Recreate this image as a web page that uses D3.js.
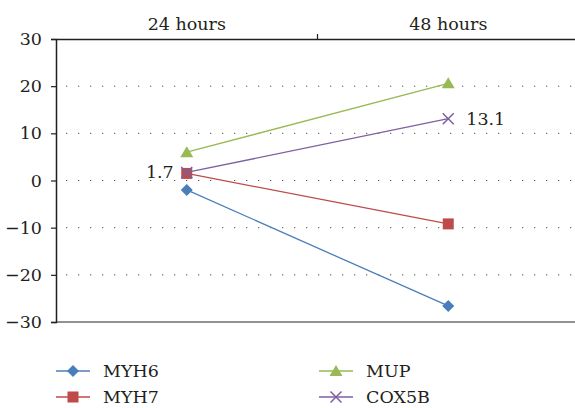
<!DOCTYPE html>
<html><head><meta charset="utf-8">
<script src="https://cdn.jsdelivr.net/npm/d3@7"></script>
<style>
html,body{margin:0;padding:0;background:#fff;}
svg{display:block;}
</style></head>
<body><svg id="c" width="575" height="408"></svg>
<script>
const categories = ["24 hours", "48 hours"];
const seriesNames = ["MYH6", "MYH7", "MUP", "COX5B"];
const myh6 = [-2.0, -26.6];
const myh7 = [1.5, -9.2];
const mup = [6.0, 20.6];
const cox5b = [1.7, 13.1];
const yTicks = [-30, -20, -10, 0, 10, 20, 30];
const colors = ["#4a7ebb", "#be4b48", "#98b954", "#7d60a0"];
const shapes = ["diamond", "square", "triangle", "x"];
const labels = [{series: 3, index: 0, text: "1.7", side: "left"}, {series: 3, index: 1, text: "13.1", side: "right"}];

const FONT = "'DejaVu Serif', serif";
const FS = "17.5px";
const seriesValues = [myh6, myh7, mup, cox5b];
const svg = d3.select("#c");
const L = 56, R = 579, T = 39, B = 322;
const x = d3.scaleBand().domain(categories).range([L, R]);
const y = d3.scaleLinear().domain([-30, 30]).range([B, T]);
const cx = c => x(c) + x.bandwidth() / 2;

// gridlines
svg.append("g").selectAll("line").data(yTicks.filter(t => t !== 30 && t !== -30)).join("line")
  .attr("x1", L + 10).attr("x2", R).attr("y1", d => y(d)).attr("y2", d => y(d))
  .attr("stroke", "#555").attr("stroke-width", 1).attr("stroke-dasharray", "1.3,10.7");

// bottom line (x at -30)
svg.append("line").attr("x1", L).attr("x2", R).attr("y1", y(-30)).attr("y2", y(-30))
  .attr("stroke", "#6d6d6d").attr("stroke-width", 1.5);

// left axis
const ya = svg.append("g").attr("transform", `translate(${L},0)`)
  .call(d3.axisLeft(y).tickValues(yTicks).tickSize(5).tickPadding(9).tickFormat(d => d < 0 ? "\u2212" + Math.abs(d) : d));
ya.attr("font-family", null).attr("font-size", null);
ya.select(".domain").attr("stroke", "#231f20").attr("stroke-width", 1.5);
ya.selectAll(".tick line").attr("stroke", "#231f20").attr("stroke-width", 1.2);
ya.selectAll("text").style("font-family", FONT).style("font-size", FS).attr("fill", "#231f20");

// top axis
const xa = svg.append("g").attr("transform", `translate(0,${T})`)
  .call(d3.axisTop(x).tickSize(0).tickPadding(9));
xa.attr("font-family", null).attr("font-size", null);
xa.select(".domain").attr("stroke", "#231f20").attr("stroke-width", 1.5);
xa.selectAll("text").style("font-family", FONT).style("font-size", FS).attr("fill", "#231f20");
svg.append("g").selectAll("line").data(categories.slice(1)).join("line")
  .attr("x1", d => x(d)).attr("x2", d => x(d)).attr("y1", T).attr("y2", T - 5)
  .attr("stroke", "#231f20").attr("stroke-width", 1.2);

function marker(g, shape, color, px, py) {
  if (shape === "diamond") {
    g.append("path").attr("d", `M${px},${py-6}L${px+6},${py}L${px},${py+6}L${px-6},${py}Z`).attr("fill", color);
  } else if (shape === "square") {
    g.append("rect").attr("x", px - 5.5).attr("y", py - 5.5).attr("width", 11).attr("height", 11).attr("fill", color);
  } else if (shape === "triangle") {
    g.append("path").attr("d", `M${px},${py-6}L${px+6.5},${py+5}L${px-6.5},${py+5}Z`).attr("fill", color);
  } else {
    g.append("path").attr("d", `M${px-5.5},${py-5.5}L${px+5.5},${py+5.5}M${px-5.5},${py+5.5}L${px+5.5},${py-5.5}`)
      .attr("stroke", color).attr("stroke-width", 1.5).attr("fill", "none");
  }
}

const line = d3.line().x((d, i) => cx(categories[i])).y(d => y(d));
seriesValues.forEach((vals, s) => {
  const g = svg.append("g");
  g.append("path").datum(vals).attr("d", line).attr("fill", "none").attr("stroke", colors[s]).attr("stroke-width", 1.3);
  vals.forEach((v, i) => marker(g, shapes[s], colors[s], cx(categories[i]), y(v)));
});

// data labels
labels.forEach(l => {
  const px = cx(categories[l.index]), py = y(seriesValues[l.series][l.index]);
  svg.append("text").attr("x", l.side === "left" ? px - 13 : px + 18).attr("y", py + 6)
    .attr("text-anchor", l.side === "left" ? "end" : "start")
    .style("font-family", FONT).style("font-size", FS).attr("fill", "#231f20").text(l.text);
});

// legend
const legPos = [[56, 371], [56, 397], [319, 371], [319, 397]];
seriesNames.forEach((n, s) => {
  const [lx, ly] = legPos[s];
  const g = svg.append("g");
  g.append("line").attr("x1", lx).attr("x2", lx + 34).attr("y1", ly).attr("y2", ly).attr("stroke", colors[s]).attr("stroke-width", 1.3);
  marker(g, shapes[s], colors[s], lx + 17, ly);
  g.append("text").attr("x", lx + 47).attr("y", ly + 6)
    .style("font-family", FONT).style("font-size", FS).attr("fill", "#231f20").text(n);
});
</script></body></html>
